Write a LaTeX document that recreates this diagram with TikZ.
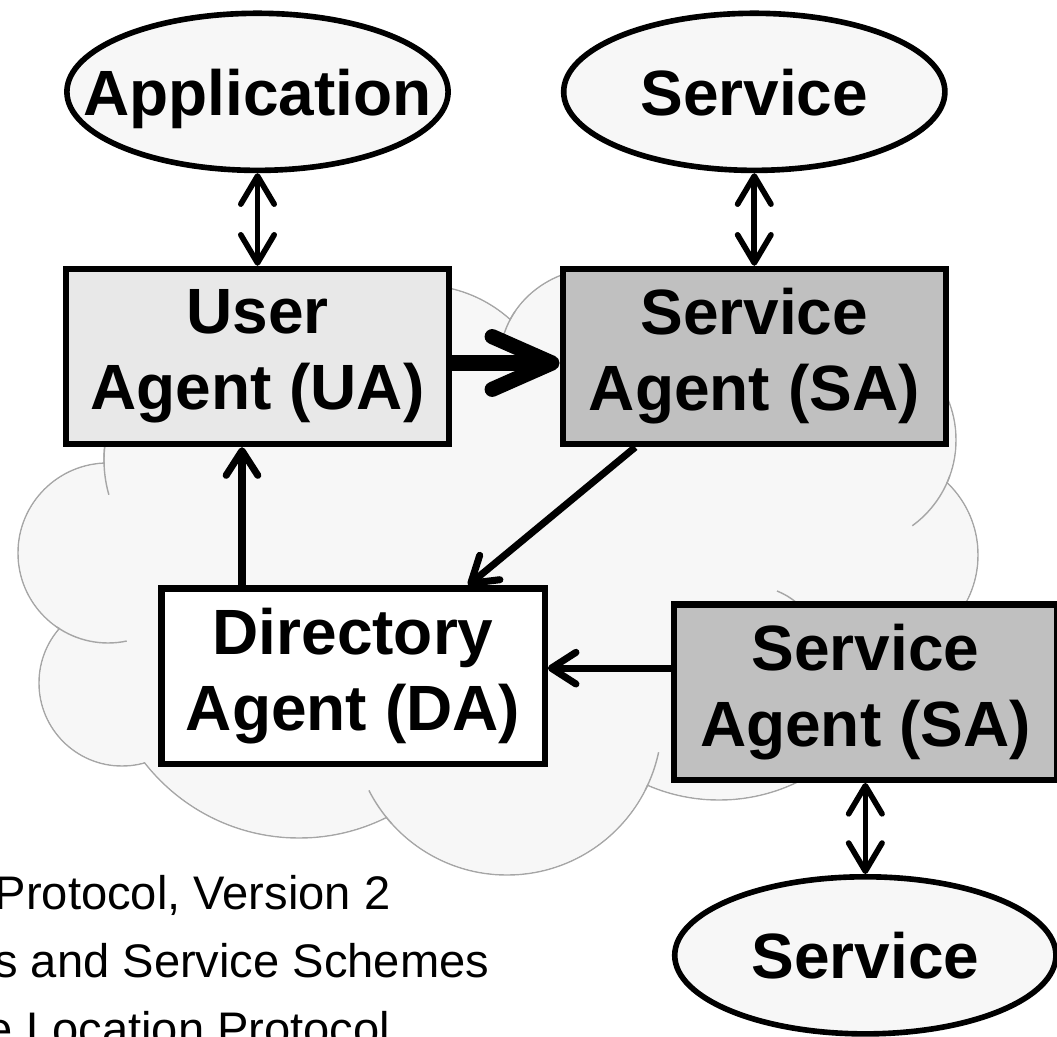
\documentclass[tikz,border=0pt]{standalone}
\usepackage{fontspec}
\setmainfont{Liberation Sans}
\usetikzlibrary{arrows.meta,positioning,shapes.geometric}
\definecolor{cloudfill}{HTML}{F7F7F7}
\definecolor{cloudedge}{HTML}{A6A6A6}
\definecolor{uafill}{HTML}{E8E8E8}
\definecolor{safill}{HTML}{C0C0C0}

\begin{document}
\begin{tikzpicture}[x=0.01cm,y=-0.01cm,node distance=2cm,on grid,
    agent/.style={rectangle,draw,line width=1.8pt,minimum width=3.83cm,minimum height=1.75cm,
      inner sep=0pt,align=center,execute at begin node={\rule{0pt}{0.6cm}},
      font=\bfseries\fontsize{18.2pt}{21.6pt}\selectfont},
    peer/.style={ellipse,draw,line width=1.6pt,fill=cloudfill,minimum width=3.81cm,minimum height=1.57cm,
      inner sep=0pt,text depth=0pt,font=\bfseries\fontsize{18.2pt}{21.6pt}\selectfont},
    lobe/.style={draw=cloudedge,fill=cloudfill,line width=0.4pt},
    rim/.style={draw=cloudedge,line width=0.4pt},
    note/.style={inner sep=0pt,font=\fontsize{13.4pt}{16pt}\selectfont},
    >={Straight Barb[length=7pt,width=9pt,round]},
    link/.style={->,line width=2pt},
    both/.style={{Straight Barb[length=8pt,width=9.5pt,round]}-{Straight Barb[length=8pt,width=9.5pt,round]},line width=1.6pt},
    push/.style={-{Straight Barb[length=17pt,width=15pt,round]},line width=4.3pt}]

  \useasboundingbox (0,0) rectangle (1057,1037);
  \clip (0,0) rectangle (1057,1037);

  \foreach \cx/\cy/\r in {230/460/126,108/553/90,122/683/83,299/642/196,507/720/155,
                          719/620/180,878/555/100,850/440/106,420/420/135}
    \filldraw[lobe] (\cx,\cy) circle[radius=\r];
  \filldraw[lobe] (600,360) ellipse[x radius=100,y radius=92];
  \foreach \cx/\cy/\r in {230/460/126,108/553/90,122/683/83,299/642/196,507/720/155,
                          719/620/180,878/555/100,850/440/106,420/420/135}
    \fill[cloudfill] (\cx,\cy) circle[radius=\r-1];
  \fill[cloudfill] (600,360) ellipse[x radius=99,y radius=91];
  \fill[cloudfill] (230,460) -- (200,600) -- (300,700) -- (507,720) -- (719,640)
    -- (860,560) -- (850,440) -- (600,380) -- (420,420) -- cycle;
  \path[rim] (230,460) ++(186:126) arc[start angle=186,end angle=164,radius=126]
    (108,553) ++(125:90) arc[start angle=125,end angle=78,radius=90]
    (507,720) ++(153:155) arc[start angle=153,end angle=138,radius=155]
    (507,720) ++(27:155) arc[start angle=27,end angle=12,radius=155]
    (850,440) ++(20:106) arc[start angle=20,end angle=54,radius=106]
    (600,360) ++(196:100 and 92) arc[start angle=196,end angle=212,x radius=100,y radius=92]
    (777,591) to[bend left=8] (797,603);

  \node[agent,fill=uafill] (ua) at (257.5,356.5) {User\\Agent (UA)};
  \node[agent,fill=safill,right=4.965cm of ua] (sa_1) {Service\\Agent (SA)};
  \node[peer,above=2.645cm of ua] (app) {\makebox[0pt]{Application}};
  \node[peer,above=2.645cm of sa_1] (svc_1) {\makebox[0pt]{Service}};
  \node[agent,fill=white,below right=3.195cm and 0.955cm of ua] (da) {Directory\\Agent (DA)};
  \node[agent,fill=safill,below right=0.16cm and 5.12cm of da] (sa_2) {Service\\Agent (SA)};
  \node[peer,below=2.63cm of sa_2] (svc_2) {\makebox[0pt]{Service}};

  \node[note,anchor=base east] (note_1) at (391,910) {Protocol, Version 2};
  \node[note,anchor=base east] (note_2) at (490,978) {s and Service Schemes};
  \node[note,anchor=base east] (note_3) at (391,1046) {e Location Protocol};

  \coordinate (da_up) at ([xshift=-1.11cm]da.north);
  \coordinate (sa_2in) at ([yshift=0.24cm]sa_2.west);
  \path[both] (app) edge (ua)
              (svc_1) edge (sa_1)
              (sa_2) edge (svc_2);
  \path[push] ([yshift=-0.065cm]ua.east) edge ([yshift=-0.065cm]sa_1.west);
  \path[link] ([xshift=-1.19cm]sa_1.south) edge ([xshift=1.15cm]da.north)
              (da_up) edge (da_up |- ua.south)
              (sa_2in) edge (sa_2in -| da.east);
\end{tikzpicture}
\end{document}
